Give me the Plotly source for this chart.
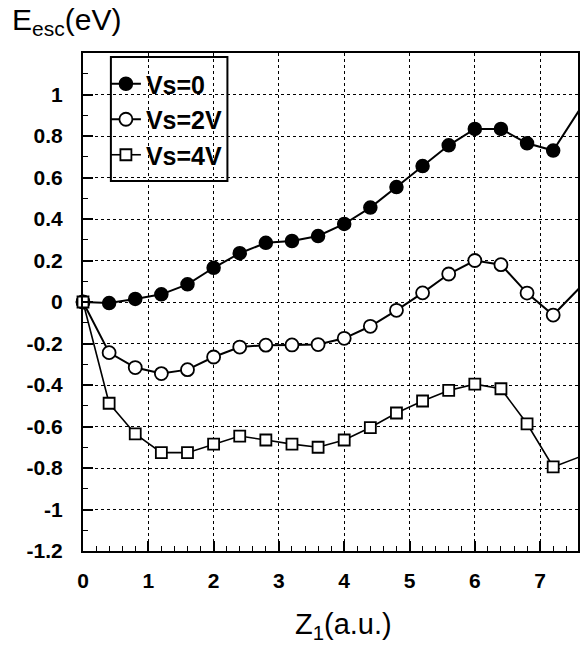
import plotly.graph_objects as go

z1 = [0.0, 0.4, 0.8, 1.2, 1.6, 2.0, 2.4, 2.8, 3.2, 3.6, 4.0, 4.4, 4.8, 5.2, 5.6, 6.0, 6.4, 6.8, 7.2, 7.6]
vs0 = [0.0, -0.005, 0.015, 0.037, 0.085, 0.165, 0.235, 0.285, 0.294, 0.318, 0.376, 0.455, 0.554, 0.655, 0.755, 0.834, 0.834, 0.765, 0.73, 0.925]
vs2 = [0.0, -0.244, -0.316, -0.345, -0.326, -0.265, -0.217, -0.208, -0.207, -0.205, -0.175, -0.117, -0.04, 0.044, 0.135, 0.20, 0.18, 0.043, -0.063, 0.067]
vs4 = [0.0, -0.488, -0.636, -0.726, -0.726, -0.685, -0.646, -0.665, -0.685, -0.70, -0.665, -0.605, -0.535, -0.477, -0.426, -0.396, -0.418, -0.587, -0.795, -0.747]
names = ["Vs=0", "Vs=2V", "Vs=4V"]
y_ticks = [1, 0.8, 0.6, 0.4, 0.2, 0, -0.2, -0.4, -0.6, -0.8, -1, -1.2]
x_ticks = [0, 1, 2, 3, 4, 5, 6, 7]

TFONT = "Liberation Sans, Arial, sans-serif"

L, R, T, B = 83, 580, 53, 551
PW, PH = R - L, B - T


def px(xp):
    return (xp - L) / PW


def py(yp):
    return (B - yp) / PH


fig = go.Figure()
fig.add_trace(go.Scatter(x=z1, y=vs0, name=names[0], mode="lines+markers",
                         line=dict(color="black", width=2),
                         marker=dict(symbol="circle", size=13, color="black",
                                     line=dict(color="black", width=1.5)),
                         cliponaxis=False))
fig.add_trace(go.Scatter(x=z1, y=vs2, name=names[1], mode="lines+markers",
                         line=dict(color="black", width=2),
                         marker=dict(symbol="circle", size=13, color="white",
                                     line=dict(color="black", width=1.8)),
                         cliponaxis=False))
fig.add_trace(go.Scatter(x=z1, y=vs4, name=names[2], mode="lines+markers",
                         line=dict(color="black", width=1.6),
                         marker=dict(symbol="square", size=11, color="white",
                                     line=dict(color="black", width=1.8)),
                         cliponaxis=False))

fig.update_layout(
    width=581, height=647,
    margin=dict(l=L, r=581 - R, t=T, b=647 - B),
    paper_bgcolor="white", plot_bgcolor="white",
    font=dict(family=TFONT, size=18, color="black"),
    showlegend=True,
    legend=dict(x=px(106), y=py(61), xanchor="left", yanchor="top",
                borderwidth=0, bgcolor="rgba(0,0,0,0)",
                font=dict(family=TFONT, size=25, color="black", weight="bold"),
                itemwidth=30, tracegroupgap=0),
    xaxis=dict(range=[0, 7.58], tickvals=x_ticks, ticktext=[str(v) for v in x_ticks],
               showgrid=True, gridcolor="black", griddash="dot", gridwidth=1,
               showline=True, linecolor="black", linewidth=2, mirror=True,
               ticks="inside", ticklen=10, tickwidth=1.5, tickcolor="black",
               minor=dict(dtick=0.2, ticks="inside", ticklen=5, tickwidth=1, tickcolor="black", showgrid=False),
               tickfont=dict(size=21, family=TFONT, weight="bold"), zeroline=False, ticklabelstandoff=10),
    yaxis=dict(range=[-1.2, 1.2], tickvals=y_ticks, ticktext=[str(v) for v in y_ticks],
               showgrid=True, gridcolor="black", griddash="dot", gridwidth=1,
               showline=True, linecolor="black", linewidth=2, mirror=True,
               ticks="inside", ticklen=10, tickwidth=1.5, tickcolor="black",
               minor=dict(dtick=0.1, ticks="inside", ticklen=5, tickwidth=1, tickcolor="black", showgrid=False),
               tickfont=dict(size=21, family=TFONT, weight="bold"), zeroline=False, ticklabelstandoff=14),
    shapes=[dict(type="rect", xref="paper", yref="paper",
                 x0=px(111), x1=px(228), y0=py(181), y1=py(57),
                 line=dict(color="black", width=2), fillcolor="white", layer="below")],
    annotations=[
        dict(text="E<sub>esc</sub>(eV)", x=px(10), y=py(22), xref="paper", yref="paper",
             showarrow=False, font=dict(size=30, family=TFONT), xanchor="left", yanchor="middle"),
        dict(text="Z<sub>1</sub>(a.u.)", x=px(345), y=py(626), xref="paper", yref="paper",
             showarrow=False, font=dict(size=29, family=TFONT), xanchor="center", yanchor="middle"),
    ],
)

fig.write_html("out.html")
